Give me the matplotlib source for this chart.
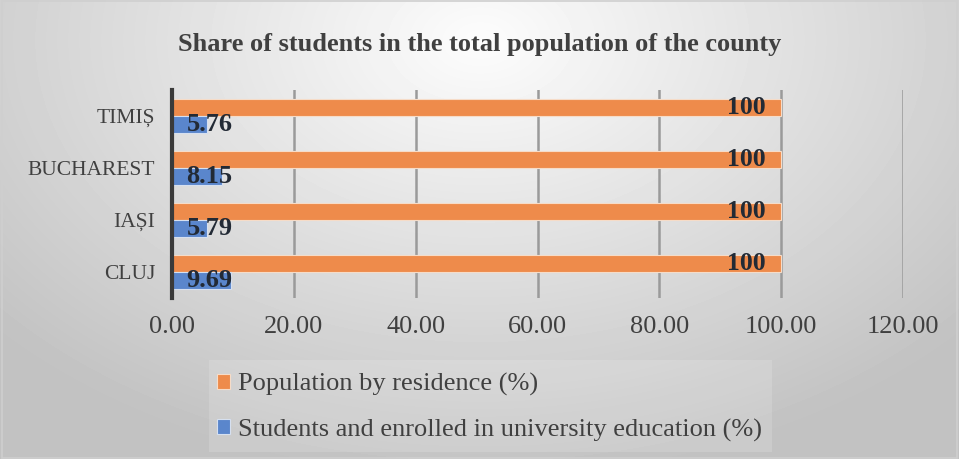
import matplotlib.pyplot as plt
import numpy as np

counties = ["CLUJ", "IAȘI", "BUCHAREST", "TIMIȘ"]
population = [100, 100, 100, 100]
students = [9.69, 5.79, 8.15, 5.76]
xticks = [0, 20, 40, 60, 80, 100, 120]

orange = "#EE8B4B"
blue = "#5A86CC"
serif = ["Liberation Serif", "DejaVu Serif"]

fig = plt.figure(figsize=(9.59, 4.59), dpi=100)

# radial grey background like the office chart style
bg = fig.add_axes([0, 0, 1, 1], zorder=-10)
yy, xx = np.mgrid[0:459, 0:959]
r = np.sqrt(((xx - 480) / 620.0) ** 2 + ((yy - 40) / 420.0) ** 2)
shade = np.clip(0.99 - 0.22 * r, 0.76, 0.99)
bg.imshow(shade, cmap="gray", vmin=0, vmax=1, aspect="auto", extent=[0, 1, 0, 1], origin="upper")
bg.set_xlim(0, 1)
bg.set_ylim(0, 1)
bg.axis("off")
bg.add_patch(plt.Rectangle((0.002, 0.003), 0.996, 0.994, fill=False, ec="#cfcfcf", lw=1.2))
# lighter legend panel
bg.add_patch(plt.Rectangle((209 / 959, 1 - 452 / 459), (772 - 209) / 959, (452 - 360) / 459,
                           fc="white", alpha=0.15, ec="none"))

ax = fig.add_axes([172 / 959, 1 - 298 / 459, (903 - 172) / 959, (298 - 90) / 459])
ax.patch.set_alpha(0)

y = np.arange(len(counties))
h = 0.335
ax.barh(y + h / 2, population, height=h, color=orange, edgecolor="#f6dcc8", linewidth=0.8, zorder=3,
        label="Population by residence (%)")
ax.barh(y - h / 2, students, height=h, color=blue, edgecolor="#d6e0f0", linewidth=0.8, zorder=3,
        label="Students and enrolled in university education (%)")

for i in range(len(counties)):
    ax.text(population[i] - 2.6, y[i] + h / 2, f"{population[i]}", ha="right", va="center",
            fontsize=18.5, fontweight="bold", family=serif, color="#222a35", zorder=4)
    ax.text(2.4, y[i] - h / 2, f"{students[i]:.2f}", ha="left", va="center",
            fontsize=19, fontweight="bold", family=serif, color="#222a35", zorder=4)

ax.set_xlim(0, 120)
ax.set_ylim(-0.5, 3.5)
ax.set_xticks(xticks)
ax.set_xticklabels([f"{v:.2f}" for v in xticks], family=serif, fontsize=19, color="#404040")
ax.set_yticks(y)
ax.set_yticklabels(counties, family=serif, fontsize=15.5, color="#404040")
ax.tick_params(length=0)
ax.tick_params(axis="y", pad=12)
ax.tick_params(axis="x", pad=13)
ax.grid(axis="x", color="#9a9a9a", linewidth=1.8, zorder=1)
for s in ["top", "right", "bottom"]:
    ax.spines[s].set_visible(False)
ax.spines["left"].set_color("#3a3a3a")
ax.spines["left"].set_linewidth(3)
ax.spines["left"].set_zorder(5)

fig.text(0.5, 1 - 45 / 459, "Share of students in the total population of the county",
         ha="center", va="center", fontsize=19, fontweight="bold", family=serif, color="#404040")

handles, labels = ax.get_legend_handles_labels()
leg = fig.legend(handles, labels, loc="upper left", bbox_to_anchor=(217 / 959, 1 - 373 / 459),
                 frameon=False, prop={"family": serif, "size": 19}, handlelength=0.5,
                 handleheight=0.5, handletextpad=0.3, labelspacing=0.85, borderaxespad=0,
                 borderpad=0)
for t in leg.get_texts():
    t.set_color("#404040")

fig.savefig("out.png", dpi=100)
